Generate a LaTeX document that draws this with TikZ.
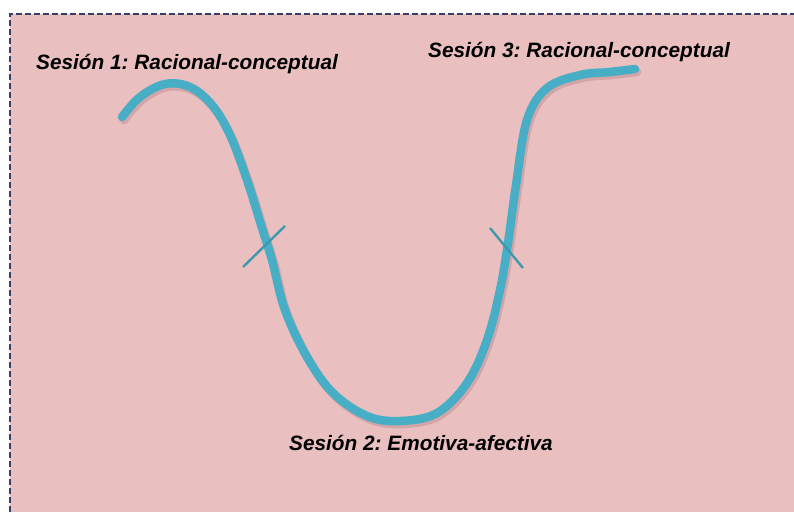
\documentclass[tikz,border=0pt]{standalone}
\usepackage{fontspec}
\setmainfont{Liberation Sans}
\frenchspacing
\definecolor{bgpink}{RGB}{233,191,192}
\definecolor{framecol}{RGB}{55,62,105}
\definecolor{tealcol}{RGB}{72,174,198}
\definecolor{shadowcol}{RGB}{185,135,140}
\tikzset{
  lbl/.style={font=\fontsize{20.8}{24}\selectfont\bfseries\itshape, text=black, inner sep=0pt, anchor=west},
  wave/.style={draw=tealcol, line width=8.5pt, line cap=round, line join=round},
  waveshadow/.style={draw=shadowcol, opacity=0.45, line width=8.5pt, line cap=round, line join=round},
  tickline/.style={draw=tealcol!88!black, line width=2.4pt},
}
\begin{document}
\begin{tikzpicture}[x=1pt,y=-1pt]
\useasboundingbox (0,0) rectangle (794,512);
\fill[white] (0,0) rectangle (794,512);
\fill[bgpink] (10,14) rectangle (794,512);
\draw[framecol, line width=2pt, dash pattern=on 6pt off 3pt] (10,512) -- (10,14) -- (794,14);
\draw[waveshadow] plot[smooth, tension=0.6] coordinates {
(124,120) (142,100) (167,87) (192,90) (214,108) (232,138) (249,183) (264,231) (274,263) (287,313) (309,360) (335,396) (369,419) (402,424) (439,416) (469,386) (489,343) (502,293) (510,246) (518,188) (529,123) (549,91) (582,78) (612,75) (637,72)};
\draw[wave] plot[smooth, tension=0.6] coordinates {
(122,117) (140,97) (165,84) (190,87) (212,105) (230,135) (247,180) (262,228) (272,260) (285,310) (307,357) (333,393) (367,416) (400,421) (437,413) (467,383) (487,340) (500,290) (508,243) (516,185) (527,120) (547,88) (580,75) (610,72) (635,69)};
\coordinate (t1a) at (243,267);
\coordinate (t1b) at (285,226);
\coordinate (t2a) at (490,228);
\coordinate (t2b) at (523,268);
\draw[tickline] (t1a) -- (t1b);
\draw[tickline] (t2a) -- (t2b);
\node[lbl] (s1) at (36,64) {Sesión 1: Racional-conceptual};
\node[lbl] (s3) at (428,52) {Sesión 3: Racional-conceptual};
\node[lbl] (s2) at (289,443) {Sesión 2: Emotiva-afectiva};
\end{tikzpicture}
\end{document}
